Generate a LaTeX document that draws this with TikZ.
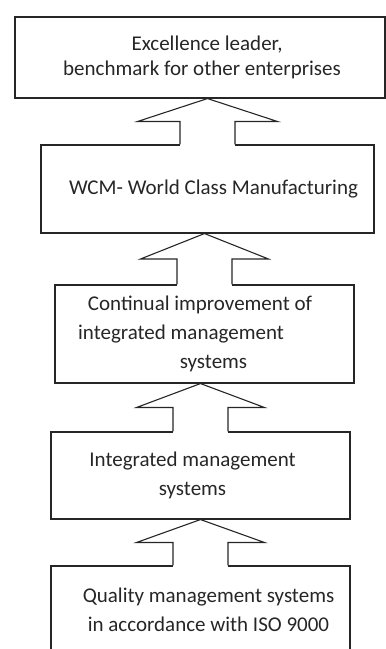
\documentclass[tikz,border=0pt]{standalone}
\usepackage{fontspec}
\setmainfont{Carlito}
\usetikzlibrary{calc}

\begin{document}
\begin{tikzpicture}[x=1pt, y=-1pt, line width=1.1pt,
		stage/.style={draw=black!85, rectangle, inner sep=0pt, align=center,
			font=\fontsize{21}{29}\selectfont, text=black!85}]
			\useasboundingbox (0,0) rectangle (386,649);
			
			% Stages
			\node[stage, minimum width=370, minimum height=81, font=\fontsize{21}{25}\selectfont] (box1) at (200,57.5)
				{\hspace*{14pt}Excellence leader,\\ \hspace*{4pt}benchmark for other enterprises};
			\node[stage, minimum width=333, minimum height=88] (box2) at (207.5,189)
				{\hspace*{12pt}WCM- World Class Manufacturing};
			\node[stage, minimum width=299, minimum height=98] (box3) at (204.5,334)
				{Continual improvement of\hspace*{9pt}\null\\ integrated management\hspace*{47pt}\null\\ \hspace*{18pt}systems};
			\node[stage, minimum width=299, minimum height=87] (box4) at (200.5,475.5)
				{Integrated management\hspace*{16pt}\null\\ systems\hspace*{16pt}\null};
			\node[stage, minimum width=299, minimum height=87] (box5) at (200.5,609.5)
				{\hspace*{16pt}Quality management systems\\ \hspace*{16pt}in accordance with ISO 9000};
			
			% Hollow arrows
			\foreach \lo/\up/\w in {box2/box1/70, box3/box2/64, box4/box3/64, box5/box4/64} {
				\coordinate (tip) at (\lo.north |- \up.south);
				\coordinate (base) at (\lo.north);
				\coordinate (mid) at ($(tip)!0.5!(base)$);
				\fill[white] ($(base)+(-27.5,1.5)$) rectangle ($(mid)+(27.5,0)$);
				\draw[draw=black!85] ($(base)+(-27.5,0)$) -- ($(mid)+(-27.5,0)$) -- ($(mid)+(-\w,0)$)
					-- (tip) -- ($(mid)+(\w,0)$) -- ($(mid)+(27.5,0)$) -- ($(base)+(27.5,0)$);
			}
		\end{tikzpicture}
\end{document}
